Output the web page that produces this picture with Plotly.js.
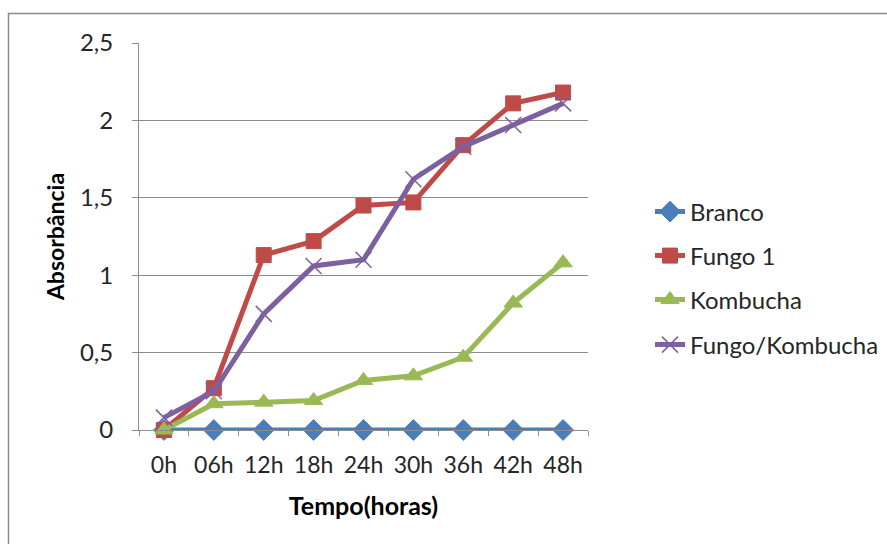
<!DOCTYPE html>
<html>
<head>
<meta charset="utf-8">
<script src="https://cdn.plot.ly/plotly-3.0.1.min.js"></script>
<style>
  html, body { margin: 0; padding: 0; background: #fff; }
  #chart { width: 887px; height: 544px; }
</style>
</head>
<body>
<div id="chart"></div>
<script>
// Sampling times
const tempos = ['0h', '06h', '12h', '18h', '24h', '30h', '36h', '42h', '48h'];

// Absorbance readings per culture
const branco = [0, 0, 0, 0, 0, 0, 0, 0, 0];
const fungo1 = [0.0, 0.27, 1.13, 1.22, 1.45, 1.47, 1.84, 2.11, 2.18];
const kombucha = [0.0, 0.17, 0.18, 0.19, 0.32, 0.35, 0.47, 0.82, 1.08];
const fungoKombucha = [0.08, 0.25, 0.75, 1.06, 1.10, 1.62, 1.83, 1.97, 2.11];

const seriesNames = ['Branco', 'Fungo 1', 'Kombucha', 'Fungo/Kombucha'];

const FONT = 'Lato, "Open Sans", "Liberation Sans", sans-serif';
const TEXT = '#262626';
const GRID = '#8c8c8c';
const FS = 24;

function serie(name, y, color, symbol, msize, legendId, markerExtra) {
  return {
    type: 'scatter',
    mode: 'lines+markers',
    name: name,
    x: tempos,
    y: y,
    legend: legendId,
    line: { color: color, width: 5 },
    marker: Object.assign({ color: color, symbol: symbol, size: msize,
                            line: { color: color, width: 1 } }, markerExtra || {}),
    cliponaxis: false
  };
}

const traces = [
  serie(seriesNames[0], branco, '#4a7ebb', 'diamond', 16, 'legend'),
  serie(seriesNames[1], fungo1, '#be4b48', 'square', 15, 'legend2'),
  serie(seriesNames[2], kombucha, '#98b954', 'triangle-up', 16, 'legend3'),
  serie(seriesNames[3], fungoKombucha, '#7d60a0', 'x-thin-open', 16, 'legend4',
        { line: { color: '#8a7eb0', width: 1.5 } })
];

// Plot area: 139..588 px horizontally, 43..430 px vertically
const W = 887, H = 544;
const L = 139, R = 588, T = 43, B = 430;
const px = v => (v - L) / (R - L);
const py = v => (B - v) / (B - T);

function legendAt(yPix) {
  return {
    x: px(650), y: py(yPix), xanchor: 'left', yanchor: 'middle',
    bgcolor: 'rgba(0,0,0,0)', borderwidth: 0,
    font: { family: FONT, size: FS, color: TEXT },
    itemwidth: 30
  };
}

const layout = {
  width: W, height: H,
  margin: { l: L, r: W - R, t: T, b: H - B, pad: 0, autoexpand: false },
  paper_bgcolor: '#ffffff',
  plot_bgcolor: '#ffffff',
  separators: ', ',
  font: { family: FONT, size: FS, color: TEXT },
  showlegend: true,
  legend: legendAt(212),
  legend2: legendAt(256),
  legend3: legendAt(300),
  legend4: legendAt(345),
  xaxis: {
    type: 'category',
    range: [-0.5, 8.5],
    showline: true, linecolor: GRID, linewidth: 1,
    showgrid: false, zeroline: false,
    ticks: 'outside', tickson: 'boundaries', ticklen: 5, tickcolor: GRID,
    tickangle: 0,
    ticklabelstandoff: 14,
    tickfont: { family: FONT, size: 23, color: TEXT },
    title: { text: '<b>Tempo(horas)</b>', font: { family: FONT, size: 25, color: '#000' }, standoff: 20 },
    automargin: false,
    fixedrange: true
  },
  yaxis: {
    range: [0, 2.5],
    dtick: 0.5, tick0: 0,
    tickformat: '.1~f',
    showline: true, linecolor: GRID, linewidth: 1,
    showgrid: true, gridcolor: GRID, gridwidth: 1,
    zeroline: false,
    ticks: 'outside', ticklen: 6, tickcolor: GRID,
    ticklabelstandoff: 14,
    tickfont: { family: FONT, size: FS, color: TEXT },
    title: { text: '<b>Absorbância</b>', font: { family: FONT, size: 23, color: '#000' }, standoff: 8 },
    automargin: false,
    fixedrange: true
  },
  shapes: [
    // chart frame
    { type: 'rect', xref: 'paper', yref: 'paper', layer: 'below',
      x0: px(8.5), x1: px(W + 20), y0: py(H + 20), y1: py(13.5),
      line: { color: '#8a8a8a', width: 1.5 }, fillcolor: 'rgba(0,0,0,0)' }
  ]
};

Plotly.newPlot('chart', traces, layout, { displayModeBar: false, staticPlot: true });
</script>
</body>
</html>
